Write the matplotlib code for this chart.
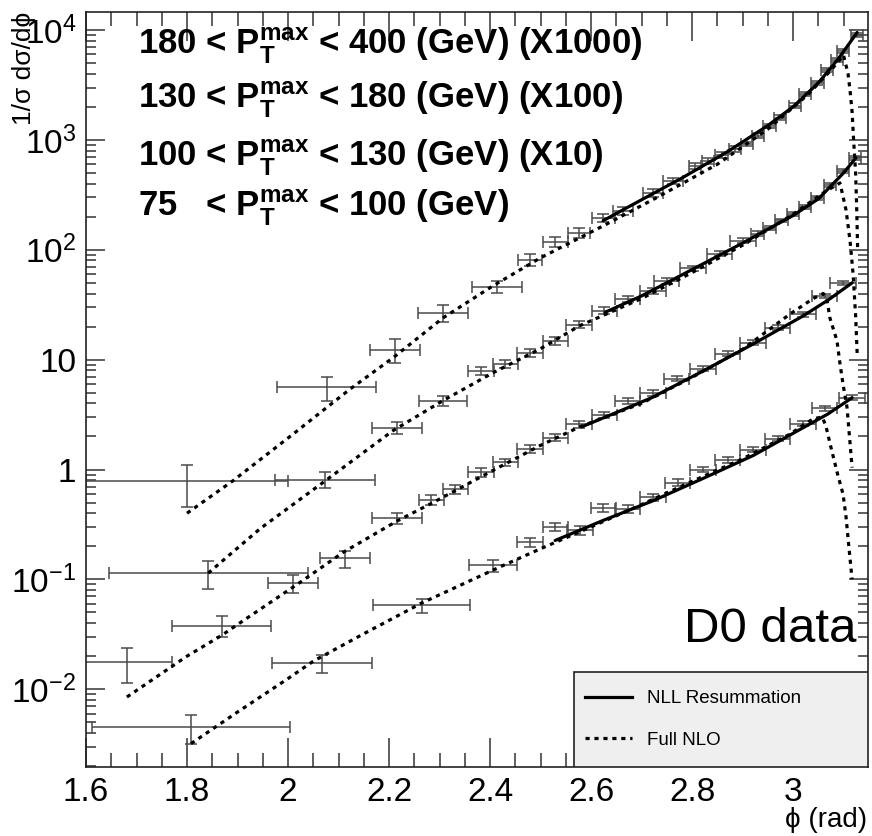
import matplotlib
matplotlib.use('Agg')
import matplotlib.pyplot as plt
import matplotlib.patches as mpatches
import matplotlib.ticker as mticker
from matplotlib.lines import Line2D
import numpy as np

plt.rcParams['font.family'] = ['Liberation Sans', 'DejaVu Sans']
plt.rcParams['mathtext.fontset'] = 'custom'
plt.rcParams['mathtext.rm'] = 'Liberation Sans'
plt.rcParams['mathtext.it'] = 'Liberation Sans:italic'
plt.rcParams['mathtext.bf'] = 'Liberation Sans:bold'

# ---- data (values already scaled by the factor in the labels) ----
# 180 < pT < 400 (x1000)
A_x = [1.800, 2.077, 2.212, 2.307, 2.414, 2.479, 2.529, 2.576, 2.624, 2.663, 2.723, 2.762, 2.806, 2.832,
       2.859, 2.885, 2.909, 2.931, 2.954, 2.974, 3.004, 3.024, 3.048, 3.067, 3.087, 3.099, 3.127]
A_y = [0.78, 5.6, 12.3, 26.7, 46, 81, 118, 143, 195, 226, 330, 424, 580, 640,
       730, 830, 920, 1090, 1340, 1590, 2050, 2640, 3300, 4300, 5300, 6400, 9100]
A_xerr = [0.200, 0.098, 0.049, 0.050, 0.050, 0.024, 0.025, 0.022, 0.023, 0.020, 0.020, 0.020] + [0.0125] * 15
A_rel = [0.42, 0.25, 0.25, 0.17, 0.13, 0.12, 0.10, 0.10, 0.09, 0.08, 0.08, 0.07, 0.07, 0.06,
         0.06, 0.06, 0.05, 0.05, 0.05, 0.05, 0.05, 0.04, 0.04, 0.04, 0.04, 0.04, 0.04]
A_nll_x = [2.624, 2.70, 2.78, 2.87, 2.95, 3.00, 3.05, 3.09, 3.127]
A_nll_y = [184, 285, 450, 780, 1350, 2000, 3300, 5500, 9500]
A_nlo_x = [1.800, 1.891, 2.010, 2.123, 2.208, 2.307, 2.406, 2.499, 2.624, 2.731, 2.85, 2.95, 3.03,
           3.075, 3.100, 3.109, 3.113, 3.117, 3.120, 3.124, 3.126, 3.128]
A_nlo_y = [0.40, 0.79, 2.1, 5.4, 10.4, 24, 47, 84, 165, 300, 600, 1250, 2600,
           4300, 5900, 4000, 2800, 1800, 1000, 500, 250, 100]

# 130 < pT < 180 (x100)
B_x = [1.842, 2.073, 2.216, 2.307, 2.382, 2.430, 2.479, 2.529, 2.576, 2.626, 2.673, 2.723, 2.750,
       2.802, 2.855, 2.901, 2.930, 2.954, 2.977, 3.000, 3.024, 3.048, 3.073, 3.099, 3.123]
B_y = [0.114, 0.81, 2.41, 4.24, 7.9, 9.2, 11.6, 14.9, 20.8, 27.9, 35.8, 42, 52,
       68, 92, 121, 140, 158, 185, 211, 245, 297, 390, 520, 690]
B_xerr = [0.197, 0.099, 0.050, 0.048] + [0.025] * 12 + [0.0125] * 9
B_rel = [0.28, 0.17, 0.12, 0.10, 0.09, 0.09, 0.08, 0.08, 0.07, 0.07, 0.06, 0.06, 0.06,
         0.05, 0.05, 0.05, 0.05, 0.05, 0.04, 0.04, 0.04, 0.04, 0.04, 0.04, 0.04]
B_nll_x = [2.628, 2.70, 2.80, 2.90, 3.00, 3.05, 3.10, 3.125]
B_nll_y = [27, 38, 66, 115, 205, 290, 500, 690]
B_nlo_x = [1.842, 1.945, 2.069, 2.208, 2.307, 2.406, 2.499, 2.578, 2.70, 2.80, 2.90, 3.00, 3.06,
           3.093, 3.105, 3.113, 3.119, 3.124, 3.127]
B_nlo_y = [0.114, 0.29, 0.76, 2.26, 4.24, 7.6, 12.5, 20.4, 36, 62, 110, 210, 330,
           406, 230, 120, 60, 25, 11.5]

# 100 < pT < 130 (x10)
C_x = [1.681, 1.869, 2.010, 2.113, 2.216, 2.284, 2.331, 2.382, 2.430, 2.479, 2.529, 2.576,
       2.626, 2.673, 2.723, 2.770, 2.822, 2.871, 2.921, 2.970, 3.020, 3.063, 3.099]
C_y = [0.0176, 0.038, 0.092, 0.155, 0.36, 0.53, 0.66, 0.94, 1.16, 1.55, 1.95, 2.57,
       3.16, 4.24, 5.0, 6.7, 8.3, 11.3, 14.3, 19.5, 26, 38, 50]
C_xerr = [0.090, 0.098, 0.050, 0.050, 0.050] + [0.025] * 18
C_rel = [0.35, 0.22, 0.18, 0.18, 0.12, 0.10, 0.10, 0.09, 0.08, 0.08, 0.07, 0.07,
         0.06, 0.06, 0.06, 0.05, 0.05, 0.05, 0.05, 0.05, 0.05, 0.05, 0.05]
C_nll_x = [2.582, 2.65, 2.72, 2.82, 2.92, 3.02, 3.07, 3.117]
C_nll_y = [2.45, 3.3, 4.5, 7.8, 13.8, 25, 35, 50]
C_nlo_x = [1.681, 1.80, 1.869, 1.911, 2.024, 2.109, 2.216, 2.287, 2.40, 2.499, 2.578, 2.70,
           2.80, 2.90, 2.994, 3.04, 3.06, 3.067, 3.073, 3.087, 3.093, 3.099, 3.107, 3.117]
C_nlo_y = [0.0085, 0.02, 0.031, 0.042, 0.094, 0.176, 0.34, 0.50, 0.95, 1.65, 2.45, 4.0,
           6.9, 12.4, 26, 36, 40, 36, 24, 14.9, 9.2, 6.0, 3.66, 1.04]

# 75 < pT < 100 (x1)
D_x = [1.808, 2.067, 2.265, 2.406, 2.479, 2.529, 2.578, 2.624, 2.673, 2.723, 2.772, 2.822,
       2.871, 2.921, 2.970, 3.020, 3.063, 3.117]
D_y = [0.0045, 0.0173, 0.058, 0.134, 0.217, 0.30, 0.28, 0.45, 0.44, 0.56, 0.76, 1.0,
       1.23, 1.52, 1.91, 2.62, 3.6, 4.5]
D_xerr = [0.196, 0.099, 0.096, 0.048] + [0.025] * 14
D_rel = [0.30, 0.19, 0.15, 0.12, 0.10, 0.09, 0.09, 0.08, 0.08, 0.07, 0.07, 0.06,
         0.06, 0.06, 0.05, 0.05, 0.05, 0.05]
D_nll_x = [2.529, 2.624, 2.723, 2.822, 2.921, 3.020, 3.069, 3.117]
D_nll_y = [0.226, 0.344, 0.52, 0.83, 1.34, 2.4, 3.2, 4.5]
D_nlo_x = [1.808, 1.90, 2.00, 2.05, 2.15, 2.265, 2.34, 2.42, 2.50, 2.60, 2.70, 2.80, 2.90,
           2.994, 3.04, 3.058, 3.065, 3.075, 3.089, 3.099, 3.105, 3.111, 3.117]
D_nlo_y = [0.0032, 0.0062, 0.0125, 0.018, 0.032, 0.061, 0.088, 0.13, 0.19, 0.30, 0.48, 0.78, 1.25,
           2.1, 2.9, 3.0, 2.5, 1.6, 0.88, 0.6, 0.37, 0.19, 0.10]

bin_labels = [r'180 < P$_{\mathbf{T}}^{\mathbf{max}}$ < 400 (GeV) (X1000)',
              r'130 < P$_{\mathbf{T}}^{\mathbf{max}}$ < 180 (GeV) (X100)',
              r'100 < P$_{\mathbf{T}}^{\mathbf{max}}$ < 130 (GeV) (X10)',
              r'75   < P$_{\mathbf{T}}^{\mathbf{max}}$ < 100 (GeV)']
x_ticks = [1.6, 1.8, 2.0, 2.2, 2.4, 2.6, 2.8, 3.0]
x_tick_labels = ['1.6', '1.8', '2', '2.2', '2.4', '2.6', '2.8', '3']
y_ticks = [1e-2, 1e-1, 1, 10, 1e2, 1e3, 1e4]
y_tick_labels = [r'$\mathregular{10^{-2}}$', r'$\mathregular{10^{-1}}$', '1', '10',
                 r'$\mathregular{10^{2}}$', r'$\mathregular{10^{3}}$', r'$\mathregular{10^{4}}$']
legend_labels = ['NLL Resummation', 'Full NLO']

W, H = 872, 836
fig = plt.figure(figsize=(W / 100, H / 100), dpi=100)
ax = fig.add_axes([86 / W, 1 - 767 / H, (867.5 - 86) / W, (767 - 12) / H])

dotted = (0, (1.3, 1.5))
series = [(A_x, A_y, A_xerr, A_rel, A_nll_x, A_nll_y, A_nlo_x, A_nlo_y),
          (B_x, B_y, B_xerr, B_rel, B_nll_x, B_nll_y, B_nlo_x, B_nlo_y),
          (C_x, C_y, C_xerr, C_rel, C_nll_x, C_nll_y, C_nlo_x, C_nlo_y),
          (D_x, D_y, D_xerr, D_rel, D_nll_x, D_nll_y, D_nlo_x, D_nlo_y)]
for sx, sy, sxe, srel, nx_, ny_, ox, oy in series:
    yerr = np.array(sy) * np.array(srel)
    ax.errorbar(sx, sy, xerr=sxe, yerr=yerr, fmt='none', ecolor='#4a4a4a',
                elinewidth=1.1, capsize=4, capthick=1.1, zorder=2)
    ax.plot(nx_, ny_, color='black', lw=2.3, solid_capstyle='round', zorder=3)
    ax.plot(ox, oy, color='black', lw=2.3, linestyle=dotted, zorder=3)

ax.set_yscale('log')
ax.set_xlim(1.6, 3.1475)
ax.set_ylim(1.96e-3, 1.46e4)

ax.set_xticks(x_ticks)
ax.set_xticklabels(x_tick_labels)
ax.xaxis.set_minor_locator(mticker.MultipleLocator(0.05))
ax.set_yticks(y_ticks)
ax.set_yticklabels(y_tick_labels)
ax.yaxis.set_minor_locator(mticker.LogLocator(base=10, subs=np.arange(2, 10), numticks=20))
ax.yaxis.set_minor_formatter(mticker.NullFormatter())

ax.tick_params(axis='x', which='major', direction='in', length=21, width=1.1, top=True,
               labelsize=24, pad=7, color='#333333')
ax.tick_params(axis='x', which='minor', direction='in', length=10, width=1.1, top=True, color='#333333')
ax.tick_params(axis='y', which='major', direction='in', length=14, width=1.1, right=True,
               labelsize=24, pad=7, color='#333333')
ax.tick_params(axis='y', which='minor', direction='in', length=7.5, width=1.1, right=True, color='#333333')
for sp in ax.spines.values():
    sp.set_linewidth(1.2)
    sp.set_color('#222222')

# legend box
box = mpatches.Rectangle((0.625, 0), 0.375, 0.126, transform=ax.transAxes, facecolor='#efefef',
                         edgecolor='#222222', lw=1.2, zorder=4)
ax.add_patch(box)
H_leg = [Line2D([], [], color='black', lw=2.3),
         Line2D([], [], color='black', lw=2.3, linestyle=dotted)]
ax.legend(H_leg, legend_labels, loc='center left', bbox_to_anchor=(0.6385, 0.063), frameon=False,
          fontsize=13.5, handlelength=2.5, handletextpad=0.8, labelspacing=1.3,
          borderaxespad=0, borderpad=0)

# annotations
baselines = [55, 108, 166, 217]
for lab, yb in zip(bin_labels, baselines):
    fig.text(138 / W, 1 - yb / H, lab, fontsize=25, fontweight='bold', ha='left', va='baseline')

fig.text(856 / W, 1 - 642 / H, 'D0 data', fontsize=35.5, ha='right', va='baseline')
fig.text(867 / W, 1 - 827 / H, 'ϕ (rad)', fontsize=20, ha='right', va='baseline')
fig.text(24 / W, 1 - 12 / H, '1/σ dσ/dϕ', fontsize=19, rotation=90, ha='center', va='top')

fig.savefig('out.png', dpi=100)
